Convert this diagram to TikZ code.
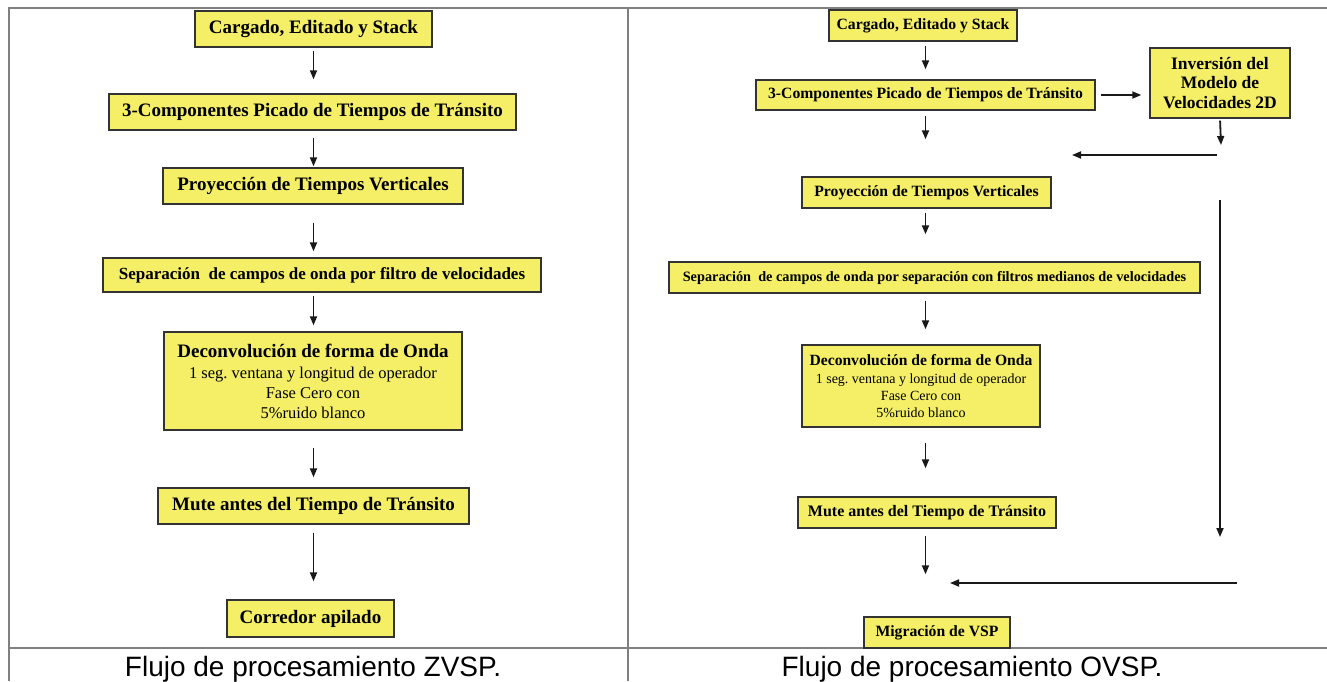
\documentclass[tikz,border=0pt]{standalone}
\usepackage{fontspec}
\setmainfont{Liberation Serif}
\newfontfamily\capfont{Liberation Sans}
\usetikzlibrary{arrows.meta}
\definecolor{boxyellow}{RGB}{245,239,104}
\definecolor{framegray}{RGB}{128,128,128}

\begin{document}
\begin{tikzpicture}[x=1pt,y=-1pt,
  box/.style={draw=black!80,line width=1.4pt,fill=boxyellow,align=center,inner sep=0pt},
  big/.style={font=\fontsize{19}{22}\selectfont\bfseries},
  small/.style={font=\fontsize{15.7}{19}\selectfont\bfseries},
  arr/.style={-{Triangle[length=9pt,width=7pt]},line width=1.8pt,black!90},
  frame/.style={draw=framegray,line width=1.6pt},
  caption/.style={font=\capfont\fontsize{28}{30}\selectfont,anchor=base}]
\useasboundingbox (0,0) rectangle (1327,681);
% frame
\draw[frame] (9,681) -- (9,8) -- (1327,8);
\draw[frame] (628,8) -- (628,681);
\draw[frame] (9,648) -- (1327,648);
% ZVSP
\node[box,big,minimum width=237pt,minimum height=36pt] (l1) at (313.5,29) {Cargado, Editado y Stack};
\node[box,big,minimum width=407pt,minimum height=36pt] (l2) at (312.5,112) {3-Componentes Picado de Tiempos de Tránsito};
\node[box,big,minimum width=300pt,minimum height=36pt] (l3) at (313,186) {Proyección de Tiempos Verticales};
\node[box,font=\fontsize{17}{20}\selectfont\bfseries,minimum width=438pt,minimum height=34pt] (l4) at (322,275) {Separación\ \ de campos de onda por filtro de velocidades};
\node[box,font=\fontsize{16.5}{20}\selectfont,minimum width=298pt,minimum height=98pt] (l5) at (313,381) {{\fontsize{19}{22}\selectfont\bfseries Deconvolución de forma de Onda}\\[1pt]
  1 seg.\ ventana y longitud de operador\\
  Fase Cero con\\
  5\%ruido blanco};
\node[box,big,minimum width=311pt,minimum height=36pt] (l6) at (313.5,506) {Mute antes del Tiempo de Tránsito};
\node[box,big,minimum width=167pt,minimum height=37pt] (l7) at (310.5,618.5) {Corredor apilado};
\draw[arr,shorten <=3pt,shorten >=14pt] (l1.south) -- (l2.north -| l1);
\draw[arr,shorten <=7pt,shorten >=1pt] (l2.south -| l1) -- (l3.north -| l1);
\draw[arr,shorten <=18pt,shorten >=6pt] (l3.south -| l1) -- (l4.north -| l1);
\draw[arr,shorten <=3pt,shorten >=6pt] (l4.south -| l1) -- (l5.north -| l1);
\draw[arr,shorten <=17pt,shorten >=10pt] (l5.south -| l1) -- (l6.north -| l1);
\draw[arr,shorten <=8pt,shorten >=18pt] (l6.south -| l1) -- (l7.north -| l1);
\node[caption] (capl) at (313,676) {Flujo de procesamiento ZVSP.};
% OVSP
\node[box,small,minimum width=188pt,minimum height=31pt] (r1) at (923,25.5) {Cargado, Editado y Stack};
\node[box,small,minimum width=339pt,minimum height=30pt] (r2) at (925.5,95) {3-Componentes Picado de Tiempos de Tránsito};
\node[box,font=\fontsize{17.5}{19.5}\selectfont\bfseries,minimum width=140pt,minimum height=70pt] (r3) at (1220,83) {Inversión del\\Modelo de\\Velocidades 2D};
\node[box,small,minimum width=249pt,minimum height=31pt] (r4) at (926.5,192.5) {Proyección de Tiempos Verticales};
\node[box,font=\fontsize{14.3}{17}\selectfont\bfseries,minimum width=531pt,minimum height=31pt] (r5) at (934.5,277.5) {Separación\ \ de campos de onda por separación con filtros medianos de velocidades};
\node[box,font=\fontsize{14}{17}\selectfont,minimum width=238pt,minimum height=82pt] (r6) at (921,386) {{\fontsize{15.6}{18}\selectfont\bfseries Deconvolución de forma de Onda}\\[1pt]
  1 seg.\ ventana y longitud de operador\\
  Fase Cero con\\
  5\%ruido blanco};
\node[box,font=\fontsize{16}{19}\selectfont\bfseries,minimum width=258pt,minimum height=31pt] (r7) at (927,512.5) {Mute antes del Tiempo de Tránsito};
\node[box,small,minimum width=146pt,minimum height=31pt] (r8) at (937,632.5) {Migración de VSP};
\coordinate (mA) at (1221,145);
\coordinate (hA1) at (1217,155);
\coordinate (hA2) at (1072,155);
\coordinate (vB1) at (1220,200);
\coordinate (vB2) at (1220,537);
\coordinate (hB1) at (1237,583);
\coordinate (hB2) at (950,583);
\draw[arr,shorten <=4pt,shorten >=10pt] (r1.south -| r2) -- (r2.north);
\draw[arr,shorten <=5pt,shorten >=8pt] (r2.east) -- (r3.west |- r2.east);
\draw[arr,shorten <=5pt,shorten >=37pt] (r2.south) -- (r4.north -| r2);
\draw[arr,shorten <=2pt] (r3.south) -- (mA);
\draw[arr] (hA1) -- (hA2);
\draw[arr] (vB1) -- (vB2);
\draw[arr] (hB1) -- (hB2);
\draw[arr,shorten <=4pt,shorten >=27pt] (r4.south -| r2) -- (r5.north -| r2);
\draw[arr,shorten <=7pt,shorten >=15pt] (r5.south -| r2) -- (r6.north -| r2);
\draw[arr,shorten <=15pt,shorten >=28pt] (r6.south -| r2) -- (r7.north -| r2);
\draw[arr,shorten <=7pt,shorten >=42pt] (r7.south -| r2) -- (r8.north -| r2);
\node[caption] (capr) at (972,676) {Flujo de procesamiento OVSP.};
\end{tikzpicture}
\end{document}
